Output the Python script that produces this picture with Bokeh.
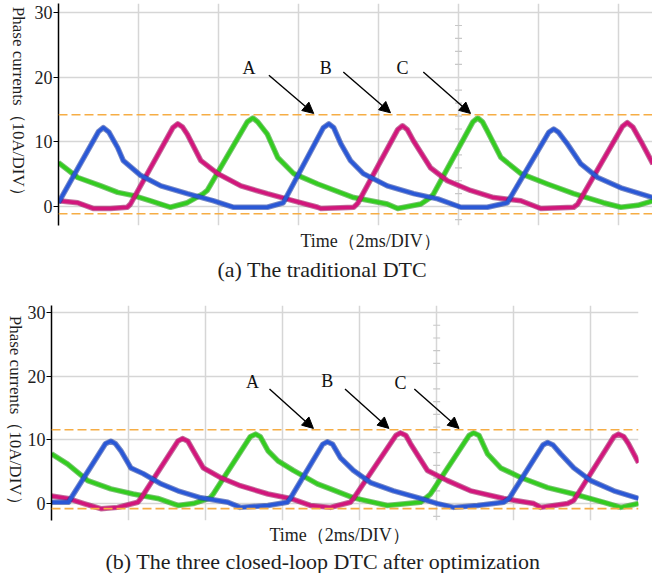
import math
from bokeh.plotting import figure
from bokeh.layouts import column, row
from bokeh.models import FixedTicker, Span, Label, Arrow, NormalHead, Range1d, Title
from bokeh.embed import file_html
from bokeh.resources import INLINE

# ---------------- data (x in 2 ms divisions, y in 10 A divisions) ----------------
# (a) traditional DTC
a_blue_x = [0.0, 0.50, 0.56, 0.63, 0.74, 0.81, 1.03, 1.28, 1.61, 1.94, 2.19, 2.61, 2.81,
            3.31, 3.38, 3.44, 3.53, 3.65, 3.81, 4.11, 4.44, 4.74, 5.03, 5.36, 5.61,
            6.13, 6.19, 6.25, 6.36, 6.53, 6.74, 7.03, 7.43]
a_blue_y = [0.6, 11.6, 12.2, 11.5, 9.1, 7.1, 4.8, 3.2, 2.0, 0.9, -0.1, -0.1, 0.6,
            12.2, 12.8, 12.2, 9.7, 7.1, 5.1, 3.2, 2.0, 1.2, -0.1, -0.1, 0.6,
            11.5, 12.0, 11.5, 9.7, 6.6, 4.5, 2.9, 1.4]
a_mag_x = [0.0, 0.24, 0.44, 0.65, 0.86, 0.90, 1.43, 1.49, 1.55, 1.61, 1.78, 1.99, 2.28,
           2.61, 2.94, 3.24, 3.28, 3.69, 3.74, 4.24, 4.30, 4.36, 4.44, 4.65, 4.86, 5.15,
           5.44, 5.78, 6.03, 6.44, 6.49, 7.05, 7.11, 7.18, 7.28, 7.43]
a_mag_y = [0.9, 0.6, -0.3, -0.3, -0.1, 0.4, 12.2, 12.8, 12.3, 11.2, 7.1, 5.1, 3.2,
           2.0, 0.9, -0.1, -0.3, -0.1, 0.5, 11.9, 12.5, 11.9, 10.1, 6.0, 4.0, 2.5,
           1.4, 0.9, -0.3, -0.1, 0.4, 12.4, 13.0, 12.3, 10.1, 6.6]
a_grn_x = [0.0, 0.24, 0.53, 0.74, 0.94, 1.15, 1.40, 1.61, 1.81, 1.86, 2.36, 2.43, 2.49,
           2.61, 2.74, 2.94, 3.24, 3.69, 4.11, 4.24, 4.53, 4.65, 4.69, 5.18, 5.24, 5.30,
           5.36, 5.53, 5.78, 6.11, 6.44, 6.81, 7.03, 7.24, 7.43]
a_grn_y = [6.8, 4.5, 3.2, 2.2, 1.7, 0.9, -0.1, 0.6, 2.0, 2.5, 13.1, 13.7, 13.1,
           11.2, 7.6, 5.1, 3.5, 1.4, 0.4, -0.3, 0.4, 1.4, 2.0, 13.1, 13.7, 13.1,
           11.7, 7.6, 5.1, 3.5, 2.0, 0.6, -0.1, 0.2, 0.9]
a_limits = [14.2, -1.1]

# (b) three closed-loop DTC after optimization
b_blue_x = [0.0, 0.22, 0.25, 0.70, 0.77, 0.83, 0.90, 1.03, 1.19, 1.42, 1.64, 1.94, 2.29,
            2.45, 2.81, 3.06, 3.10, 3.52, 3.58, 3.65, 3.75, 3.92, 4.14, 4.44, 4.79, 5.01,
            5.22, 5.53, 5.87, 5.94, 6.38, 6.44, 6.51, 6.61, 6.78, 7.00, 7.30, 7.62]
b_blue_y = [0.2, 0.2, 0.8, 9.4, 9.8, 9.4, 8.3, 5.6, 4.7, 3.1, 2.0, 0.9, 0.2,
            -0.6, -0.3, 0.2, 0.8, 9.3, 9.7, 9.3, 7.2, 5.2, 3.3, 2.0, 0.8, 0.0,
            -0.6, -0.3, 0.2, 0.8, 9.2, 9.6, 9.2, 7.8, 5.6, 3.6, 2.0, 0.8]
b_mag_x = [0.0, 0.21, 0.42, 0.64, 0.86, 1.12, 1.16, 1.64, 1.70, 1.77, 1.84, 1.97, 2.19,
           2.45, 2.81, 3.10, 3.36, 3.62, 3.88, 3.92, 4.47, 4.53, 4.60, 4.66, 4.88, 5.14,
           5.44, 5.87, 6.26, 6.35, 6.70, 6.78, 7.30, 7.36, 7.43, 7.49, 7.62]
b_mag_y = [1.2, 0.8, 0.0, -0.8, -0.6, 0.2, 0.8, 9.8, 10.2, 9.8, 8.3, 5.6, 4.1,
           2.8, 1.5, 0.8, -0.3, -0.6, 0.2, 0.8, 10.7, 11.1, 10.7, 9.4, 5.2, 3.6,
           2.0, 0.8, 0.0, -0.6, 0.0, 0.5, 10.5, 10.9, 10.5, 9.4, 6.4]
b_grn_x = [0.0, 0.21, 0.47, 0.77, 1.06, 1.38, 1.64, 1.84, 2.06, 2.10, 2.58, 2.65, 2.71,
           2.81, 2.94, 3.14, 3.45, 3.62, 3.92, 4.36, 4.79, 4.92, 5.42, 5.48, 5.55, 5.66,
           5.83, 6.09, 6.44, 6.78, 7.17, 7.39, 7.62]
b_grn_y = [7.8, 6.2, 3.6, 2.3, 1.5, 0.8, -0.3, 0.0, 0.9, 1.5, 10.5, 10.9, 10.5,
           8.3, 6.7, 5.2, 3.1, 2.3, 0.9, -0.3, 0.2, 1.5, 10.7, 11.1, 10.7, 7.8,
           5.6, 4.1, 2.5, 1.5, 0.2, -0.6, 0.0]
b_limits = [11.6, -0.8]

y_ticks = [0, 10, 20, 30]
x_grid = [1, 2, 3, 4, 5, 6, 7]
center_ticks = [-2, 2, 4, 6, 8, 12, 14, 16, 18, 22, 24, 26, 28]
arrow_letters = ["A", "B", "C"]

BLUE = "#2a58d6"
BLUE_D = "#1c3aa0"
MAG = "#d2167c"
MAG_D = "#9a1058"
GRN = "#33cc1f"
GRN_D = "#209a14"
ORANGE = "#f6ad45"
SERIF = "Liberation Serif"
TXT = "#1e1e1e"
YLABEL = "Phase currents（10A/DIV）"
XLABEL = "Time（2ms/DIV）"


def ylabel_fig(width, height, cx, cy):
    f = figure(width=width, height=height, x_range=Range1d(0, width), y_range=Range1d(0, height),
               x_axis_type=None, y_axis_type=None, output_backend="svg", toolbar_location=None,
               min_border=0)
    f.outline_line_color = None
    f.grid.visible = False
    f.add_layout(Label(x=cx, y=cy, text=YLABEL, angle=-math.pi / 2, text_font=SERIF,
                       text_font_size="17px", text_align="center", text_baseline="middle",
                       text_color=TXT))
    return f


def panel(width, height, borders, xr, yr, series, limits, arrows, titles):
    left, right, top, bottom = borders
    p = figure(width=width, height=height, x_range=xr, y_range=yr,
               output_backend="svg", toolbar_location=None,
               min_border_left=left, min_border_right=right,
               min_border_top=top, min_border_bottom=bottom)
    p.outline_line_color = None
    p.background_fill_color = "white"
    p.xaxis.visible = False
    p.xgrid.ticker = FixedTicker(ticks=x_grid)
    p.xgrid.grid_line_color = "#d6d6d6"
    p.xgrid.grid_line_width = 1.5
    p.ygrid.grid_line_color = "#d6d6d6"
    p.ygrid.grid_line_width = 1.5
    ya = p.yaxis[0]
    ya.ticker = FixedTicker(ticks=y_ticks)
    ya.axis_line_color = "black"
    ya.axis_line_width = 1.5
    ya.major_tick_out = 5
    ya.major_tick_in = 0
    ya.minor_tick_out = 0
    ya.minor_tick_in = 0
    ya.major_label_standoff = 1
    ya.major_label_text_font = SERIF
    ya.major_label_text_font_size = "18px"
    ya.major_label_text_color = TXT

    # oscilloscope centre line minor ticks
    p.scatter(x=[5] * len(center_ticks), y=center_ticks, marker="dash", size=7,
              line_color="#c8c8c8", line_width=1.2)

    for v in limits:
        p.add_layout(Span(location=v, dimension="width", line_color=ORANGE,
                          line_width=1.6, line_dash="9 4"))

    for (xs, ys, c, cd) in series:
        p.line(xs, ys, line_color=cd, line_width=5.5, line_join="round", line_alpha=0.6)
        p.line(xs, ys, line_color=c, line_width=3.5, line_join="round")

    for letter, (lx, ly, x0, y0, x1, y1) in zip(arrow_letters, arrows):
        p.add_layout(Label(x=lx, y=ly, text=letter, text_font=SERIF, text_font_size="18px",
                           text_align="center", text_baseline="middle", text_color="#111111"))
        p.add_layout(Arrow(x_start=x0, y_start=y0, x_end=x1, y_end=y1, line_width=1.4,
                           line_color="black",
                           end=NormalHead(size=11, fill_color="black", line_color="black")))

    for (text, size, off, stand) in titles:
        p.add_layout(Title(text=text, align="left", offset=off, text_font=SERIF,
                           text_font_size=size, text_font_style="normal", text_color=TXT,
                           standoff=stand), "below")
    return p


W1 = 28
p1 = panel(652 - W1, 290, (30, 0, 3, 65), Range1d(0, 7.425), Range1d(-2.92, 31.4),
           [(a_grn_x, a_grn_y, GRN, GRN_D), (a_mag_x, a_mag_y, MAG, MAG_D),
            (a_blue_x, a_blue_y, BLUE, BLUE_D)],
           a_limits,
           [(2.38, 21.4, 2.63, 20.3, 3.19, 14.4),
            (3.34, 21.4, 3.56, 20.8, 4.15, 14.5),
            (4.30, 21.4, 4.56, 20.8, 5.15, 14.4)],
           [(XLABEL, "18px", 242, 6), ("(a) The traditional DTC", "22px", 159, 2)])

W2 = 24
p2 = panel(652 - W2, 283, (27, 14, 15, 53), Range1d(0, 7.62), Range1d(-2.66, 31.1),
           [(b_grn_x, b_grn_y, GRN, GRN_D), (b_mag_x, b_mag_y, MAG, MAG_D),
            (b_blue_x, b_blue_y, BLUE, BLUE_D)],
           b_limits,
           [(2.61, 19.1, 2.83, 18.0, 3.40, 11.8),
            (3.58, 19.2, 3.81, 18.0, 4.38, 11.8),
            (4.53, 18.9, 4.71, 18.0, 5.29, 11.8)],
           [(XLABEL, "18px", 218, 4),
            ("(b) The three closed-loop DTC after optimization", "22px", 54, 0)])

l1 = ylabel_fig(W1, 290, 18, 157)
l2 = ylabel_fig(W2, 283, 15, 140)

layout = column(row(l1, p1, spacing=0), row(l2, p2, spacing=0), spacing=0)
open("out.html", "w").write(file_html(layout, INLINE))
